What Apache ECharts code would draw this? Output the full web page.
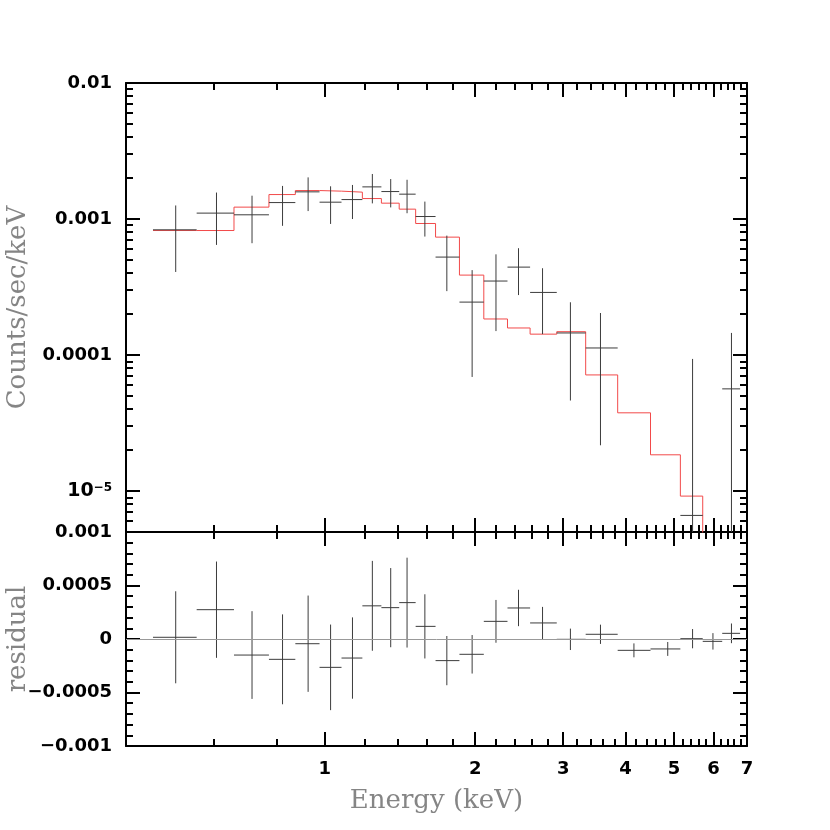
<!DOCTYPE html>
<html>
<head>
<meta charset="utf-8">
<script src="https://cdn.jsdelivr.net/npm/echarts@6/dist/echarts.min.js"></script>
<style>html,body{margin:0;padding:0;background:#fff}#c{width:830px;height:830px}</style>
</head>
<body>
<div id="c"></div>
<script>
// ---- data ----
const binLo = [0.453,0.554,0.658,0.773,0.873,0.976,1.080,1.189,1.298,1.409,1.520,1.666,1.860,2.081,2.321,2.576,2.913,3.328,3.857,4.487,5.149,5.708,6.244];
const binHi = [0.554,0.658,0.773,0.873,0.976,1.080,1.189,1.298,1.409,1.520,1.666,1.860,2.081,2.321,2.576,2.913,3.328,3.857,4.487,5.149,5.708,6.244,6.781];
const energy = [0.503,0.607,0.715,0.823,0.926,1.027,1.136,1.245,1.355,1.461,1.586,1.755,1.972,2.201,2.442,2.728,3.102,3.563,4.157,4.858,5.447,5.983,6.516];
const rate = [8.33e-4,1.105e-3,1.074e-3,1.321e-3,1.584e-3,1.330e-3,1.390e-3,1.723e-3,1.592e-3,1.523e-3,1.043e-3,5.25e-4,2.45e-4,3.50e-4,4.43e-4,2.886e-4,1.453e-4,1.127e-4,null,null,6.62e-6,null,5.64e-5];
const rateErr = [4.25e-4,4.6e-4,4.1e-4,4.3e-4,4.4e-4,4.1e-4,3.9e-4,4.2e-4,3.75e-4,4.2e-4,3.0e-4,2.3e-4,1.76e-4,2.0e-4,1.67e-4,1.46e-4,9.9e-5,9.1e-5,null,null,8.7e-5,null,8.9e-5];
const model = [8.23e-4,8.23e-4,1.223e-3,1.513e-3,1.619e-3,1.603e-3,1.576e-3,1.414e-3,1.308e-3,1.182e-3,9.27e-4,7.36e-4,3.87e-4,1.841e-4,1.581e-4,1.424e-4,1.485e-4,7.14e-5,3.76e-5,1.847e-5,9.18e-6,3e-6,2e-6];
const resid = [1.6e-5,2.74e-4,-1.5e-4,-1.9e-4,-4.4e-5,-2.65e-4,-1.78e-4,3.1e-4,2.93e-4,3.4e-4,1.18e-4,-2.02e-4,-1.43e-4,1.65e-4,2.9e-4,1.5e-4,-3e-6,4.4e-5,-1.06e-4,-9.3e-5,3e-6,-2.2e-5,5.3e-5];
const residErr = [4.3e-4,4.5e-4,4.1e-4,4.2e-4,4.5e-4,4.0e-4,3.8e-4,4.2e-4,3.7e-4,4.2e-4,3.0e-4,2.3e-4,1.8e-4,2.0e-4,1.7e-4,1.5e-4,1.0e-4,9e-5,6.5e-5,6.5e-5,9e-5,7.7e-5,9.2e-5];

// ---- axis ticks and labels ----
const xMajorTicks = [1,2,3,4,5,6,7];
const xTickLabels = ['1','2','3','4','5','6','7'];
const xMinorTicks = [0.6,0.8,1.2,1.4,1.6,1.8,2.2,2.4,2.6,2.8,3.2,3.4,3.6,3.8,4.2,4.4,4.6,4.8,5.2,5.4,5.6,5.8,6.2,6.4,6.6,6.8];
const yTopMajorTicks = [1e-5,1e-4,1e-3,1e-2];
const yTopTickLabels = ['{m|10}{s|\u22125}','0.0001','0.001','0.01'];
const yTopMinorTicks = [6e-6,7e-6,8e-6,9e-6,2e-5,3e-5,4e-5,5e-5,6e-5,7e-5,8e-5,9e-5,2e-4,3e-4,4e-4,5e-4,6e-4,7e-4,8e-4,9e-4,2e-3,3e-3,4e-3,5e-3,6e-3,7e-3,8e-3,9e-3];
const residMajorTicks = [-0.001,-0.0005,0,0.0005,0.001];
const residTickLabels = ['\u22120.001','\u22120.0005','0','0.0005','0.001'];
const residMinorTicks = [-0.0009,-0.0008,-0.0007,-0.0006,-0.0004,-0.0003,-0.0002,-0.0001,0.0001,0.0002,0.0003,0.0004,0.0006,0.0007,0.0008,0.0009];

const XMIN = 0.4, XMAX = 7, YMIN = 5e-6, YMAX = 0.01, RMIN = -0.001, RMAX = 0.001;
const MAJ = 14, MIN = 7;
const labelFont = {color:'#000', fontFamily:'DejaVu Sans', fontWeight:'bold', fontSize:18};
const titleFont = {color:'#858585', fontFamily:'DejaVu Serif', fontSize:26, fontWeight:'normal'};

function lookup(ticks, labels, v, isLog) {
  let best = 0, bd = Infinity;
  ticks.forEach((t, i) => {
    const d = isLog ? Math.abs(Math.log10(t) - Math.log10(v)) : Math.abs(t - v);
    if (d < bd) { bd = d; best = i; }
  });
  return labels[best];
}

function axisBase(type, grid, pos, min, max, ticks, len, showLine) {
  return {
    type: type, gridIndex: grid, position: pos, min: min, max: max,
    axisLine: {show: showLine, onZero: false, lineStyle: {color:'#000', width:2}},
    axisTick: {show: true, inside: true, length: len, customValues: ticks, lineStyle: {color:'#000', width:2}},
    axisLabel: {show: false},
    splitLine: {show: false}, minorTick: {show: false}, minorSplitLine: {show: false}
  };
}

const xAxes = [];
[0, 1].forEach(g => {
  ['bottom', 'top'].forEach(pos => {
    const major = axisBase('log', g, pos, XMIN, XMAX, xMajorTicks, MAJ, true);
    if (g === 1 && pos === 'bottom') {
      major.axisLabel = Object.assign({show: true, customValues: xMajorTicks, margin: 14,
        formatter: v => lookup(xMajorTicks, xTickLabels, v, true)}, labelFont);
      major.name = 'Energy (keV)';
      major.nameLocation = 'middle';
      major.nameGap = 42;
      major.nameMoveOverlap = false;
      major.nameTextStyle = titleFont;
    }
    xAxes.push(major);
    xAxes.push(axisBase('log', g, pos, XMIN, XMAX, xMinorTicks, MIN, false));
  });
});

const yAxes = [];
['left', 'right'].forEach(pos => {
  const major = axisBase('log', 0, pos, YMIN, YMAX, yTopMajorTicks, MAJ, true);
  if (pos === 'left') {
    major.axisLabel = Object.assign({show: true, customValues: yTopMajorTicks, margin: 14,
      formatter: v => lookup(yTopMajorTicks, yTopTickLabels, v, true),
      rich: {m: Object.assign({}, labelFont, {fontSize: 19}), s: Object.assign({}, labelFont, {fontSize: 12, verticalAlign: 'top', lineHeight: 12})}
    }, labelFont);
    major.name = 'Counts/sec/keV';
    major.nameLocation = 'middle';
    major.nameGap = 95;
    major.nameRotate = 90;
    major.nameMoveOverlap = false;
    major.nameTextStyle = titleFont;
  }
  yAxes.push(major);
  yAxes.push(axisBase('log', 0, pos, YMIN, YMAX, yTopMinorTicks, MIN, false));
});
['left', 'right'].forEach(pos => {
  const major = axisBase('value', 1, pos, RMIN, RMAX, residMajorTicks, MAJ, true);
  if (pos === 'left') {
    major.axisLabel = Object.assign({show: true, customValues: residMajorTicks, margin: 14,
      formatter: v => lookup(residMajorTicks, residTickLabels, v, false)}, labelFont);
    major.name = 'residual';
    major.nameLocation = 'middle';
    major.nameGap = 95;
    major.nameRotate = 90;
    major.nameMoveOverlap = false;
    major.nameTextStyle = titleFont;
  }
  yAxes.push(major);
  yAxes.push(axisBase('value', 1, pos, RMIN, RMAX, residMinorTicks, MIN, false));
});

function errRows(vals, errs) {
  const rows = [];
  vals.forEach((v, i) => {
    if (v === null) return;
    rows.push([binLo[i], binHi[i], energy[i], v, errs[i]]);
  });
  return rows;
}

function errRender(clampMin) {
  return function (params, api) {
    const lo = api.value(0), hi = api.value(1), xc = api.value(2), y = api.value(3), e = api.value(4);
    let yl = y - e;
    if (clampMin !== null && yl < clampMin) yl = clampMin;
    const a = api.coord([lo, y]), b = api.coord([hi, y]);
    const c = api.coord([xc, y + e]), d = api.coord([xc, yl]);
    const st = {stroke: '#3c3c3c', lineWidth: 1};
    return {type: 'group', children: [
      {type: 'line', shape: {x1: a[0], y1: a[1], x2: b[0], y2: b[1]}, style: st},
      {type: 'line', shape: {x1: c[0], y1: c[1], x2: d[0], y2: d[1]}, style: st}
    ]};
  };
}

const modelSteps = binLo.map((x, i) => [x, model[i]]);
modelSteps.push([binHi[binHi.length - 1], model[model.length - 1]]);

const option = {
  animation: false,
  backgroundColor: '#fff',
  grid: [
    {left: 126, top: 83, width: 621, height: 449, containLabel: false, outerBoundsMode: 'none'},
    {left: 126, top: 532, width: 621, height: 214, containLabel: false, outerBoundsMode: 'none'}
  ],
  xAxis: xAxes,
  yAxis: yAxes,
  series: [
    {type: 'line', name: 'model', xAxisIndex: 0, yAxisIndex: 0, step: 'end', showSymbol: false, symbol: 'none',
     data: modelSteps, lineStyle: {color: '#f24a4a', width: 1}, clip: true, z: 3},
    {type: 'custom', name: 'data', xAxisIndex: 0, yAxisIndex: 0, clip: true,
     data: errRows(rate, rateErr), encode: {x: [0, 1, 2], y: [3]},
     renderItem: errRender(YMIN), z: 4},
    {type: 'custom', name: 'residual', xAxisIndex: 4, yAxisIndex: 4, clip: true,
     data: errRows(resid, residErr), encode: {x: [0, 1, 2], y: [3]},
     renderItem: errRender(null), z: 4,
     markLine: {silent: true, symbol: 'none', label: {show: false},
       lineStyle: {color: '#999', width: 1, type: 'solid'}, data: [{yAxis: 0}]}}
  ]
};

const chart = echarts.init(document.getElementById('c'), null, {renderer: 'canvas'});
chart.setOption(option);
</script>
</body>
</html>
